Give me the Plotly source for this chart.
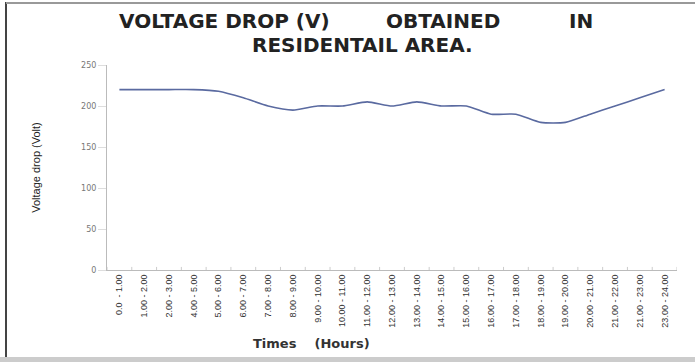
import plotly.graph_objects as go

times = ["0.0  - 1.00", "1.00 - 2.00", "2.00 - 3.00", "4.00 - 5.00", "5.00 - 6.00",
         "6.00 - 7.00", "7.00 - 8.00", "8.00 - 9.00", "9.00 - 10.00", "10.00 - 11.00",
         "11.00 - 12.00", "12.00 - 13.00", "13.00 - 14.00", "14.00 - 15.00", "15.00 - 16.00",
         "16.00 - 17.00", "17.00 - 18.00", "18.00 - 19.00", "19.00 - 20.00", "20.00 - 21.00",
         "21.00 - 22.00", "21.00 - 23.00", "23.00 - 24.00"]
voltage_drop = [220, 220, 220, 220, 218, 210, 200, 195, 200, 200, 205, 200,
                205, 200, 200, 190, 190, 180, 180, 190, 200, 210, 220]
y_ticks = [0, 50, 100, 150, 200, 250]

fig = go.Figure()
fig.add_trace(go.Scatter(
    x=list(range(len(times))), y=voltage_drop, mode="lines",
    line=dict(color="#5a6aa0", width=1.6, shape="spline", smoothing=0.6),
    hoverinfo="skip", showlegend=False))

fig.update_layout(
    width=695, height=362,
    margin=dict(l=107, r=18, t=65, b=92),
    paper_bgcolor="white", plot_bgcolor="white",
    font=dict(family="Liberation Sans Narrow, Liberation Sans, Arial", color="#555"),
    xaxis=dict(range=[-0.5, len(times) - 0.5],
               tickmode="array", tickvals=list(range(len(times))), ticktext=times,
               tickangle=-90, tickfont=dict(size=9, color="#333"),
               showgrid=False, zeroline=False,
               showline=True, linecolor="#bbb", linewidth=1,
               ticks=""),
    yaxis=dict(range=[0, 250], tickvals=y_ticks,
               tickfont=dict(family="DejaVu Sans", size=8, color="#777"),
               showgrid=False, zeroline=False,
               showline=True, linecolor="#bbb", linewidth=1,
               ticks="outside", ticklen=8, tickcolor="#ddd",
               title=dict(text="Voltage drop (Volt)", standoff=38,
                          font=dict(size=11, color="#222"))),
)

def px_x(v):
    return (v - 107) / 570

def px_y(v):
    return (270 - v) / 205

title_font = dict(family="DejaVu Sans, Verdana", size=20, color="#222")
# title (line 1 in segments, line 2)
for txt, cx in [("VOLTAGE DROP (V)", 224), ("OBTAINED", 443), ("IN", 581)]:
    fig.add_annotation(xref="paper", yref="paper", x=px_x(cx), y=px_y(21),
                       text="<b>" + txt + "</b>", showarrow=False,
                       xanchor="center", yanchor="middle", font=title_font)
fig.add_annotation(xref="paper", yref="paper", x=px_x(362), y=px_y(45),
                   text="<b>RESIDENTAIL AREA.</b>", showarrow=False,
                   xanchor="center", yanchor="middle", font=title_font)
# x-axis title
fig.add_annotation(xref="paper", yref="paper", x=px_x(311), y=px_y(343),
                   text="<b>Times    (Hours)</b>", showarrow=False,
                   xanchor="center", yanchor="middle",
                   font=dict(family="DejaVu Sans, Verdana", size=13, color="#333"))

# x-axis tick marks between categories
for i in range(len(times) + 1):
    fig.add_shape(type="line", xref="x", yref="paper",
                  x0=i - 0.5, x1=i - 0.5, y0=0, y1=0.015,
                  line=dict(color="#ccc", width=1))

# picture frame
fig.add_shape(type="line", xref="paper", yref="paper", x0=px_x(6), x1=px_x(6),
              y0=px_y(362), y1=px_y(2), line=dict(color="#444", width=2))
fig.add_shape(type="line", xref="paper", yref="paper", x0=px_x(6), x1=px_x(695),
              y0=px_y(3), y1=px_y(3), line=dict(color="#999", width=2))
fig.add_shape(type="rect", xref="paper", yref="paper", x0=px_x(0), x1=px_x(695),
              y0=px_y(357), y1=px_y(362), line=dict(width=0), fillcolor="#ccc")

fig.write_html("out.html")
